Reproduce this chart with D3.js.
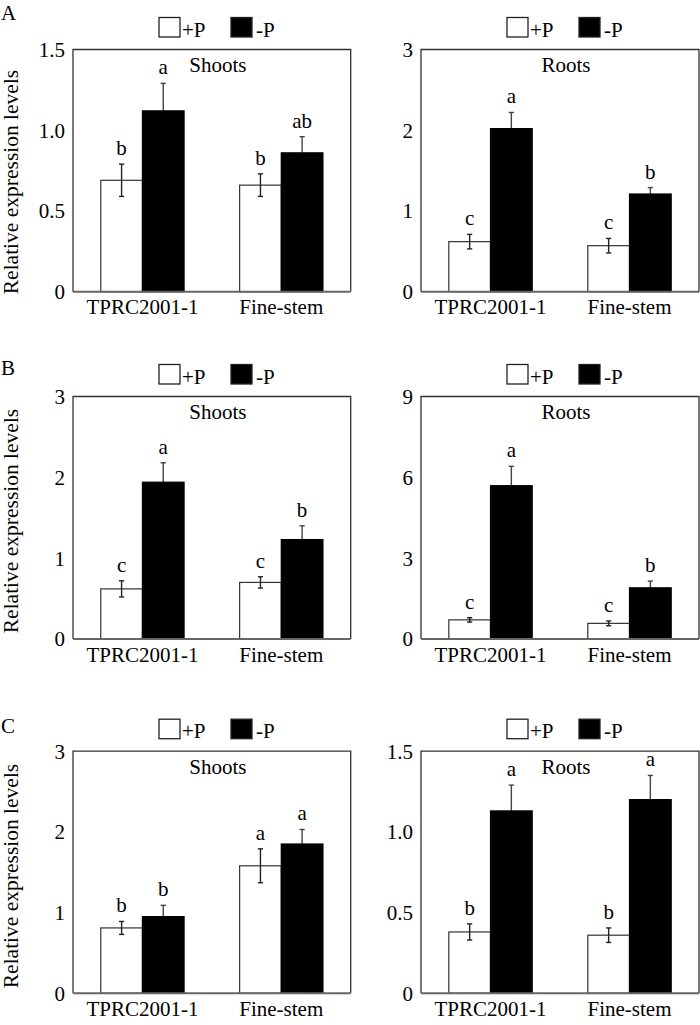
<!DOCTYPE html>
<html><head><meta charset="utf-8">
<script src="https://cdn.jsdelivr.net/npm/d3@7"></script>
<style>html,body{margin:0;padding:0;background:#fff;} svg{display:block;}
svg text{font-family:"Liberation Serif","Times New Roman",Times,"DejaVu Serif",serif;}</style>
</head><body>
<svg id="chart" width="700" height="1025"></svg>
<script>
const groups = ["TPRC2001-1", "Fine-stem"];
const treatments = ["+P", "-P"];

// Panel A
const aShootPlus = [0.69, 0.66], aShootPlusErr = [0.10, 0.07];
const aShootMinus = [1.12, 0.86], aShootMinusErr = [0.17, 0.10];
const aShootLettersPlus = ["b", "b"], aShootLettersMinus = ["a", "ab"];
const aRootPlus = [0.62, 0.57], aRootPlusErr = [0.09, 0.09];
const aRootMinus = [2.02, 1.21], aRootMinusErr = [0.20, 0.08];
const aRootLettersPlus = ["c", "c"], aRootLettersMinus = ["a", "b"];
// Panel B
const bShootPlus = [0.62, 0.70], bShootPlusErr = [0.10, 0.07];
const bShootMinus = [1.94, 1.23], bShootMinusErr = [0.24, 0.17];
const bShootLettersPlus = ["c", "c"], bShootLettersMinus = ["a", "b"];
const bRootPlus = [0.71, 0.58], bRootPlusErr = [0.08, 0.09];
const bRootMinus = [5.69, 1.90], bRootMinusErr = [0.72, 0.25];
const bRootLettersPlus = ["c", "c"], bRootLettersMinus = ["a", "b"];
// Panel C
const cShootPlus = [0.81, 1.58], cShootPlusErr = [0.08, 0.21];
const cShootMinus = [0.95, 1.85], cShootMinusErr = [0.14, 0.18];
const cShootLettersPlus = ["b", "a"], cShootLettersMinus = ["b", "a"];
const cRootPlus = [0.38, 0.36], cRootPlusErr = [0.05, 0.045];
const cRootMinus = [1.13, 1.20], cRootMinusErr = [0.16, 0.15];
const cRootLettersPlus = ["b", "b"], cRootLettersMinus = ["a", "a"];

const ticks15 = [0, 0.5, 1.0, 1.5];
const ticks3 = [0, 1, 2, 3];
const ticks9 = [0, 3, 6, 9];

const panels = [
  {row:0, col:0, title:"Shoots", yMax:1.5, ticks:ticks15, fmt:d=>d===0?"0":d3.format(".1f")(d),
   plus:aShootPlus, plusErr:aShootPlusErr, minus:aShootMinus, minusErr:aShootMinusErr, lp:aShootLettersPlus, lm:aShootLettersMinus},
  {row:0, col:1, title:"Roots", yMax:3, ticks:ticks3, fmt:d3.format("d"),
   plus:aRootPlus, plusErr:aRootPlusErr, minus:aRootMinus, minusErr:aRootMinusErr, lp:aRootLettersPlus, lm:aRootLettersMinus},
  {row:1, col:0, title:"Shoots", yMax:3, ticks:ticks3, fmt:d3.format("d"),
   plus:bShootPlus, plusErr:bShootPlusErr, minus:bShootMinus, minusErr:bShootMinusErr, lp:bShootLettersPlus, lm:bShootLettersMinus},
  {row:1, col:1, title:"Roots", yMax:9, ticks:ticks9, fmt:d3.format("d"),
   plus:bRootPlus, plusErr:bRootPlusErr, minus:bRootMinus, minusErr:bRootMinusErr, lp:bRootLettersPlus, lm:bRootLettersMinus},
  {row:2, col:0, title:"Shoots", yMax:3, ticks:ticks3, fmt:d3.format("d"),
   plus:cShootPlus, plusErr:cShootPlusErr, minus:cShootMinus, minusErr:cShootMinusErr, lp:cShootLettersPlus, lm:cShootLettersMinus},
  {row:2, col:1, title:"Roots", yMax:1.5, ticks:ticks15, fmt:d=>d===0?"0":d3.format(".1f")(d),
   plus:cRootPlus, plusErr:cRootPlusErr, minus:cRootMinus, minusErr:cRootMinusErr, lp:cRootLettersPlus, lm:cRootLettersMinus}
];

const rowLetters = ["A", "B", "C"];
const rowTop = [49.5, 396.5, 751.2];
const rowBottom = [291.7, 639, 993.3];
const rowLetterY = [20, 375, 733];
const rowYLabel = [182, 521, 876];
const colLeft = [73, 421];
const colRight = [350.7, 699];

const svg = d3.select("#chart");

rowLetters.forEach((L, r) => {
  svg.append("text").attr("x", 1).attr("y", rowLetterY[r]).text(L)
    .attr("font-size", 21).attr("fill", "#000");
  svg.append("text")
    .attr("transform", `translate(18,${rowYLabel[r]}) rotate(-90)`)
    .attr("text-anchor", "middle").text("Relative expression levels")
    .attr("font-size", 21.5).attr("fill", "#000");
});

panels.forEach(p => {
  const x0 = colLeft[p.col], x1 = colRight[p.col];
  const top = rowTop[p.row], bot = rowBottom[p.row];
  const x = d3.scaleBand().domain(groups).range([x0, x1]).paddingInner(0.4).paddingOuter(0.2);
  const xs = d3.scaleBand().domain(treatments).range([0, x.bandwidth()]);
  const y = d3.scaleLinear().domain([0, p.yMax]).range([bot, top]);
  const g = svg.append("g");

  g.selectAll(".tl").data(p.ticks).join("text")
    .attr("x", x0 - 8).attr("y", d => y(d)).attr("dy", "0.35em")
    .attr("text-anchor", "end").text(p.fmt)
    .attr("font-size", 21).attr("fill", "#000");

  g.selectAll(".xl").data(groups).join("text")
    .attr("x", d => x(d) + x.bandwidth() / 2).attr("y", bot + 22.5)
    .attr("text-anchor", "middle").text(d => d)
    .attr("font-size", 21).attr("fill", "#000");

  g.append("text").attr("x", (x0 + x1) / 2 + 6).attr("y", top + 22.5)
    .attr("text-anchor", "middle").text(p.title)
    .attr("font-size", 21).attr("fill", "#000");

  const data = [];
  groups.forEach((grp, i) => {
    data.push({grp, t: "+P", v: p.plus[i], e: p.plusErr[i], l: p.lp[i]});
    data.push({grp, t: "-P", v: p.minus[i], e: p.minusErr[i], l: p.lm[i]});
  });

  const cx = d => x(d.grp) + xs(d.t) + xs.bandwidth() / 2;

  // upward error bars of -P bars
  data.filter(d => d.t === "-P").forEach(d => {
    const xc = cx(d);
    const yTop = y(d.v + d.e);
    g.append("line").attr("x1", xc).attr("x2", xc).attr("y1", yTop).attr("y2", y(d.v))
      .attr("stroke", "#444").attr("stroke-width", 1.4);
    g.append("line").attr("x1", xc - 2.6).attr("x2", xc + 2.6).attr("y1", yTop).attr("y2", yTop)
      .attr("stroke", "#444").attr("stroke-width", 1.4);
  });

  g.selectAll(".bar").data(data).join("rect")
    .attr("x", d => x(d.grp) + xs(d.t)).attr("width", xs.bandwidth())
    .attr("y", d => y(d.v)).attr("height", d => y(0) - y(d.v))
    .attr("fill", d => d.t === "+P" ? "#fff" : "#000")
    .attr("stroke", d => d.t === "+P" ? "#333" : "#000").attr("stroke-width", 1.2);

  data.filter(d => d.t === "+P").forEach(d => {
    const xc = cx(d);
    const yTop = y(d.v + d.e), yBot = y(d.v - d.e);
    g.append("line").attr("x1", xc).attr("x2", xc).attr("y1", yTop).attr("y2", yBot)
      .attr("stroke", "#222").attr("stroke-width", 1.4);
    [yTop, yBot].forEach(yy => g.append("line").attr("x1", xc - 2.6).attr("x2", xc + 2.6)
      .attr("y1", yy).attr("y2", yy).attr("stroke", "#222").attr("stroke-width", 1.4));
  });

  g.selectAll(".let").data(data).join("text")
    .attr("x", cx).attr("y", d => y(d.v + d.e) - 9)
    .attr("text-anchor", "middle").text(d => d.l)
    .attr("font-size", 21).attr("fill", "#000");

  g.append("path").attr("d", `M${x0},${bot}V${top}H${x1}V${bot}`)
    .attr("fill", "none").attr("stroke", "#333").attr("stroke-width", 1.3);
  g.append("line").attr("x1", x0).attr("x2", x1).attr("y1", bot).attr("y2", bot)
    .attr("stroke", "#666").attr("stroke-width", 2);

  const lx = x0 + 86, ly = top - 32;
  treatments.forEach((t, i) => {
    const bx = lx + i * 72;
    g.append("rect").attr("x", bx).attr("y", ly).attr("width", 21).attr("height", 19.5)
      .attr("fill", t === "+P" ? "#fff" : "#000").attr("stroke", "#222").attr("stroke-width", 1.3);
    g.append("text").attr("x", bx + (t === "+P" ? 23 : 25)).attr("y", ly + 19)
      .text(t).attr("font-size", 21).attr("fill", "#000");
  });
});
</script>
</body></html>
